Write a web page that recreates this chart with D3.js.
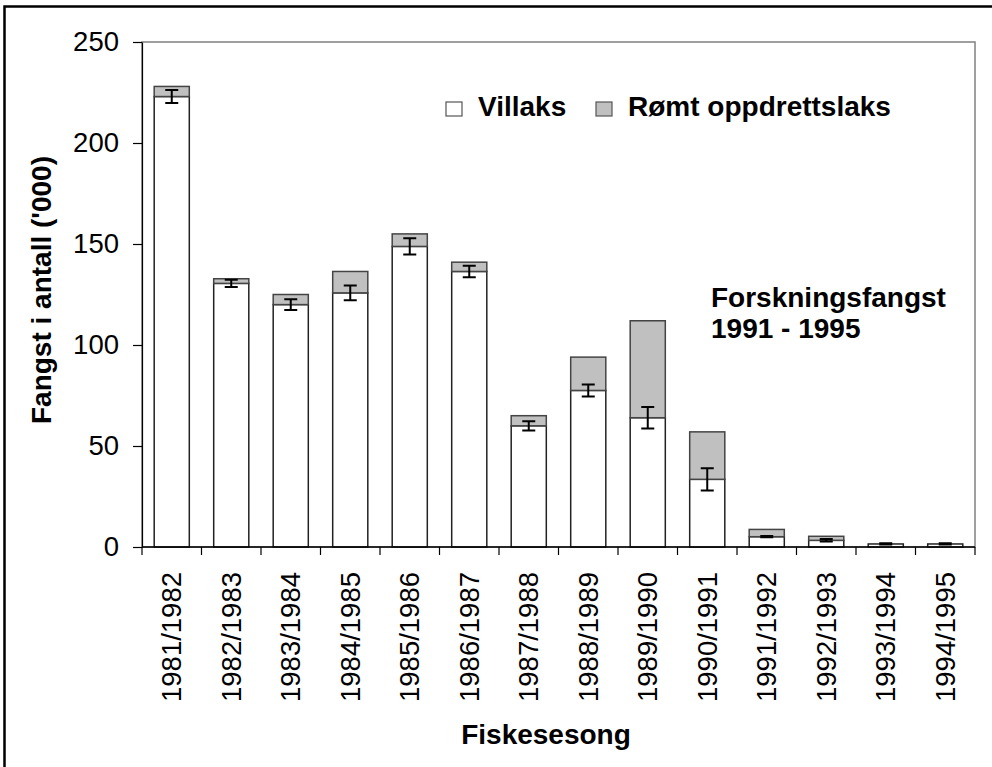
<!DOCTYPE html>
<html>
<head>
<meta charset="utf-8">
<script src="https://cdn.jsdelivr.net/npm/d3@7"></script>
<style>
  body { margin: 0; background: #fff; }
  text { font-family: Arial, "Liberation Sans", sans-serif; }
</style>
</head>
<body>
<div id="canvas"></div>
<script>
//    data
var seasons = ['1981/1982','1982/1983','1983/1984','1984/1985','1985/1986','1986/1987','1987/1988',
    '1988/1989','1989/1990','1990/1991','1991/1992','1992/1993','1993/1994','1994/1995'];
var villaks = [223, 130.5, 120, 125.8, 148.8, 136.4, 60, 77.5, 64, 33.5, 5.1, 3.3, 1.5, 1.5];
var romt    = [5, 2.3, 5, 10.6, 6.2, 4.6, 5, 16.5, 48, 23.5, 3.6, 2, 0, 0];
var errors  = [3.2, 1.8, 2.7, 3.6, 4, 2.8, 2.3, 3, 5.3, 5.5, 0.3, 0.6, 0.3, 0.3];
var yTicks  = [0, 50, 100, 150, 200, 250];

//    defination
var width = 992, height = 767;
var pLeft = 142, pRight = 975, pTop = 42, pBottom = 547;

var x = d3.scaleBand()
    .domain(seasons)
    .range([pLeft, pRight])
    .paddingInner(0.41)
    .paddingOuter(0.205);
var y = d3.scaleLinear()
    .domain([0, 250])
    .range([pBottom, pTop]);

var svg = d3.select('#canvas')
    .append('svg')
    .attr('width', width)
    .attr('height', height);

//    outer frame
svg.append('rect')
    .attr('x', 4.5).attr('y', 6.5)
    .attr('width', 1000).attr('height', 800)
    .attr('fill', 'none')
    .attr('stroke', '#000')
    .attr('stroke-width', 2.5);

//    plot frame
svg.append('rect')
    .attr('x', pLeft).attr('y', pTop)
    .attr('width', pRight - pLeft).attr('height', pBottom - pTop)
    .attr('fill', 'none')
    .attr('stroke', '#808080')
    .attr('stroke-width', 1.5);

//    bars
var rows = seasons.map(function(s, i) {
    return {season: s, villaks: villaks[i], romt: romt[i], err: errors[i]};
});

var bars = svg.selectAll('.bar')
    .data(rows)
    .enter()
    .append('g')
    .attr('class', 'bar');

bars.append('rect')
    .attr('x', function(d) { return x(d.season); })
    .attr('y', function(d) { return y(d.villaks); })
    .attr('width', x.bandwidth())
    .attr('height', function(d) { return pBottom - y(d.villaks); })
    .attr('fill', '#fff')
    .attr('stroke', '#222')
    .attr('stroke-width', 1.5);

bars.filter(function(d) { return d.romt > 0; })
    .append('rect')
    .attr('x', function(d) { return x(d.season); })
    .attr('y', function(d) { return y(d.villaks + d.romt); })
    .attr('width', x.bandwidth())
    .attr('height', function(d) { return y(d.villaks) - y(d.villaks + d.romt); })
    .attr('fill', '#c0c0c0')
    .attr('stroke', '#444')
    .attr('stroke-width', 1.5);

//    error bars
var cap = 6.5;
bars.append('path')
    .attr('d', function(d) {
        var cx = x(d.season) + x.bandwidth() / 2;
        var y1 = y(d.villaks + d.err), y2 = y(d.villaks - d.err);
        return 'M' + (cx - cap) + ',' + y1 + 'H' + (cx + cap)
            + 'M' + cx + ',' + y1 + 'V' + y2
            + 'M' + (cx - cap) + ',' + y2 + 'H' + (cx + cap);
    })
    .attr('fill', 'none')
    .attr('stroke', '#000')
    .attr('stroke-width', 2);

//    y axis
var yAxis = svg.append('g')
    .attr('transform', 'translate(' + pLeft + ',0)')
    .call(d3.axisLeft(y).tickValues(yTicks).tickSize(9).tickPadding(14).tickSizeOuter(0));
yAxis.select('.domain').attr('stroke', '#000').attr('stroke-width', 1.2);
yAxis.selectAll('.tick line').attr('stroke', '#000').attr('stroke-width', 1.2);
yAxis.selectAll('.tick text')
    .style('font-size', '27.5px')
    .attr('fill', '#000');

//    x axis, ticks between the bands
var bounds = seasons.map(function(s) { return x(s) - x.step() * x.paddingInner() / 2; });
bounds.push(pRight);
var xAxis = svg.append('g').attr('class', 'xaxis');
xAxis.append('line')
    .attr('x1', pLeft).attr('x2', pRight)
    .attr('y1', pBottom).attr('y2', pBottom)
    .attr('stroke', '#000').attr('stroke-width', 1.5);
xAxis.selectAll('.xtick')
    .data(bounds)
    .enter()
    .append('line')
    .attr('x1', function(d) { return d; })
    .attr('x2', function(d) { return d; })
    .attr('y1', pBottom).attr('y2', pBottom + 8)
    .attr('stroke', '#000').attr('stroke-width', 1.2);
xAxis.selectAll('.xlabel')
    .data(seasons)
    .enter()
    .append('text')
    .attr('transform', function(d) {
        return 'translate(' + (x(d) + x.bandwidth() / 2) + ',572) rotate(-90)';
    })
    .attr('dy', '0.35em')
    .attr('text-anchor', 'end')
    .style('font-size', '27.5px')
    .text(function(d) { return d; });

//    axis titles
svg.append('text')
    .attr('x', 546)
    .attr('y', 744)
    .attr('text-anchor', 'middle')
    .style('font-size', '28px')
    .style('font-weight', 'bold')
    .text('Fiskesesong');

svg.append('text')
    .attr('transform', 'translate(51,290) rotate(-90)')
    .attr('text-anchor', 'middle')
    .style('font-size', '28px')
    .style('font-weight', 'bold')
    .text("Fangst i antall ('000)");

//    legend
var legend = [
    {label: 'Villaks', color: '#fff', x: 446},
    {label: 'Rømt oppdrettslaks', color: '#c0c0c0', x: 596}
];
var lg = svg.selectAll('.legend')
    .data(legend)
    .enter()
    .append('g')
    .attr('class', 'legend');
lg.append('rect')
    .attr('x', function(d) { return d.x; })
    .attr('y', 102)
    .attr('width', 16).attr('height', 14)
    .attr('fill', function(d) { return d.color; })
    .attr('stroke', '#555')
    .attr('stroke-width', 1.2);
lg.append('text')
    .attr('x', function(d) { return d.x + 32; })
    .attr('y', 116)
    .style('font-size', '28px')
    .style('font-weight', 'bold')
    .text(function(d) { return d.label; });

//    note
var note = svg.append('text')
    .attr('x', 711)
    .attr('y', 307)
    .style('font-size', '28px')
    .style('font-weight', 'bold');
note.append('tspan').attr('x', 711).text('Forskningsfangst');
note.append('tspan').attr('x', 711).attr('dy', 31).text('1991 - 1995');
</script>
</body>
</html>
